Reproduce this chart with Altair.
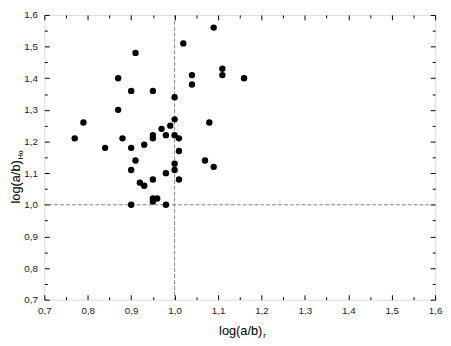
import altair as alt
import pandas as pd

# data
x_vals = [1.09, 1.02, 0.91, 1.11, 1.11, 0.87, 1.04, 1.04, 1.16, 0.90,
          0.95, 1.00, 0.87, 0.79, 1.00, 0.99, 0.97, 1.08, 0.77, 0.88,
          0.95, 0.95, 0.98, 1.00, 1.01, 0.84, 0.90, 0.93, 1.01, 0.91,
          1.00, 1.07, 1.09, 0.90, 1.00, 0.98, 1.01, 0.95, 0.92, 0.93,
          0.95, 0.96, 0.95, 0.90, 0.98]
y_vals = [1.56, 1.51, 1.48, 1.43, 1.41, 1.40, 1.41, 1.38, 1.40, 1.36,
          1.36, 1.34, 1.30, 1.26, 1.27, 1.25, 1.24, 1.26, 1.21, 1.21,
          1.22, 1.21, 1.22, 1.22, 1.21, 1.18, 1.18, 1.19, 1.17, 1.14,
          1.13, 1.14, 1.12, 1.11, 1.11, 1.10, 1.08, 1.08, 1.07, 1.06,
          1.02, 1.02, 1.01, 1.00, 1.00]

major_ticks = [0.7, 0.8, 0.9, 1.0, 1.1, 1.2, 1.3, 1.4, 1.5, 1.6]
minor_ticks = [0.75, 0.85, 0.95, 1.05, 1.15, 1.25, 1.35, 1.45, 1.55]
ref_x = [1.0]
ref_y = [1.0]
x_title = ["log(a/b)"]
x_sub = ["r"]
y_title = ["log(a/b)"]
y_sub = ["Hα"]

FONT = "Liberation Sans"
df = pd.DataFrame({"x": x_vals, "y": y_vals})
xscale = alt.Scale(domain=[0.7, 1.6], nice=False, zero=False)
yscale = alt.Scale(domain=[0.7, 1.6], nice=False, zero=False)
label_expr = "replace(format(datum.value, '.1f'), '.', ',')"


def label_axis(orient, pad):
    return alt.Axis(orient=orient, values=major_ticks, ticks=False, domain=False,
                    grid=False, labelExpr=label_expr, labelFlush=False,
                    labelOverlap=False, labelPadding=pad, labelFontSize=10,
                    labelFont=FONT, labelColor="#222", title=None)


def tick_axis(orient, values, size):
    return alt.Axis(orient=orient, values=values, ticks=True, tickSize=size,
                    tickColor="black", tickWidth=1, offset=-size, labels=False,
                    domain=False, grid=False, title=None)


def axis_layer(xaxis, yaxis):
    return alt.Chart(df).mark_point(opacity=0).encode(
        x=alt.X("x:Q", scale=xscale, axis=xaxis),
        y=alt.Y("y:Q", scale=yscale, axis=yaxis),
    )


layers = [
    axis_layer(label_axis("bottom", 6), label_axis("left", 7)),
    axis_layer(tick_axis("bottom", major_ticks, 5), tick_axis("left", major_ticks, 5)),
    axis_layer(tick_axis("bottom", minor_ticks, 3), tick_axis("left", minor_ticks, 3)),
    axis_layer(tick_axis("top", major_ticks, 5), tick_axis("right", major_ticks, 5)),
    axis_layer(tick_axis("top", minor_ticks, 3), tick_axis("right", minor_ticks, 3)),
]

vrule = alt.Chart(pd.DataFrame({"v": ref_x})).mark_rule(
    color="#666", strokeDash=[4, 2], strokeWidth=0.8
).encode(x=alt.X("v:Q", scale=xscale, axis=None))
hrule = alt.Chart(pd.DataFrame({"v": ref_y})).mark_rule(
    color="#666", strokeDash=[4, 2], strokeWidth=0.8
).encode(y=alt.Y("v:Q", scale=yscale, axis=None))

points = alt.Chart(df).mark_circle(size=42, color="black", opacity=1).encode(
    x=alt.X("x:Q", scale=xscale, axis=None),
    y=alt.Y("y:Q", scale=yscale, axis=None),
)

xt = alt.Chart(pd.DataFrame({"t": x_title})).mark_text(
    font=FONT, fontSize=13, align="right", baseline="alphabetic", color="black"
).encode(text="t:N", x=alt.value(222), y=alt.value(326))
xs = alt.Chart(pd.DataFrame({"t": x_sub})).mark_text(
    font=FONT, fontSize=8, align="left", baseline="alphabetic", color="black"
).encode(text="t:N", x=alt.value(223), y=alt.value(329))
yt = alt.Chart(pd.DataFrame({"t": y_title})).mark_text(
    font=FONT, fontSize=13, align="right", baseline="alphabetic", angle=270,
    color="black"
).encode(text="t:N", x=alt.value(-25), y=alt.value(148))
ys = alt.Chart(pd.DataFrame({"t": y_sub})).mark_text(
    font=FONT, fontSize=7, align="left", baseline="alphabetic", angle=270,
    color="black"
).encode(text="t:N", x=alt.value(-22), y=alt.value(147))

chart = alt.layer(
    *layers, vrule, hrule, points, xt, xs, yt, ys
).resolve_axis(x="independent", y="independent").properties(
    width=398, height=290,
    padding={"left": 37, "top": 4, "right": 8, "bottom": 40},
    autosize=alt.AutoSizeParams(type="none"),
).configure_view(stroke="black", strokeWidth=1).configure(background="white")

chart.save("out.html", embed_options={"renderer": "svg", "actions": False})
